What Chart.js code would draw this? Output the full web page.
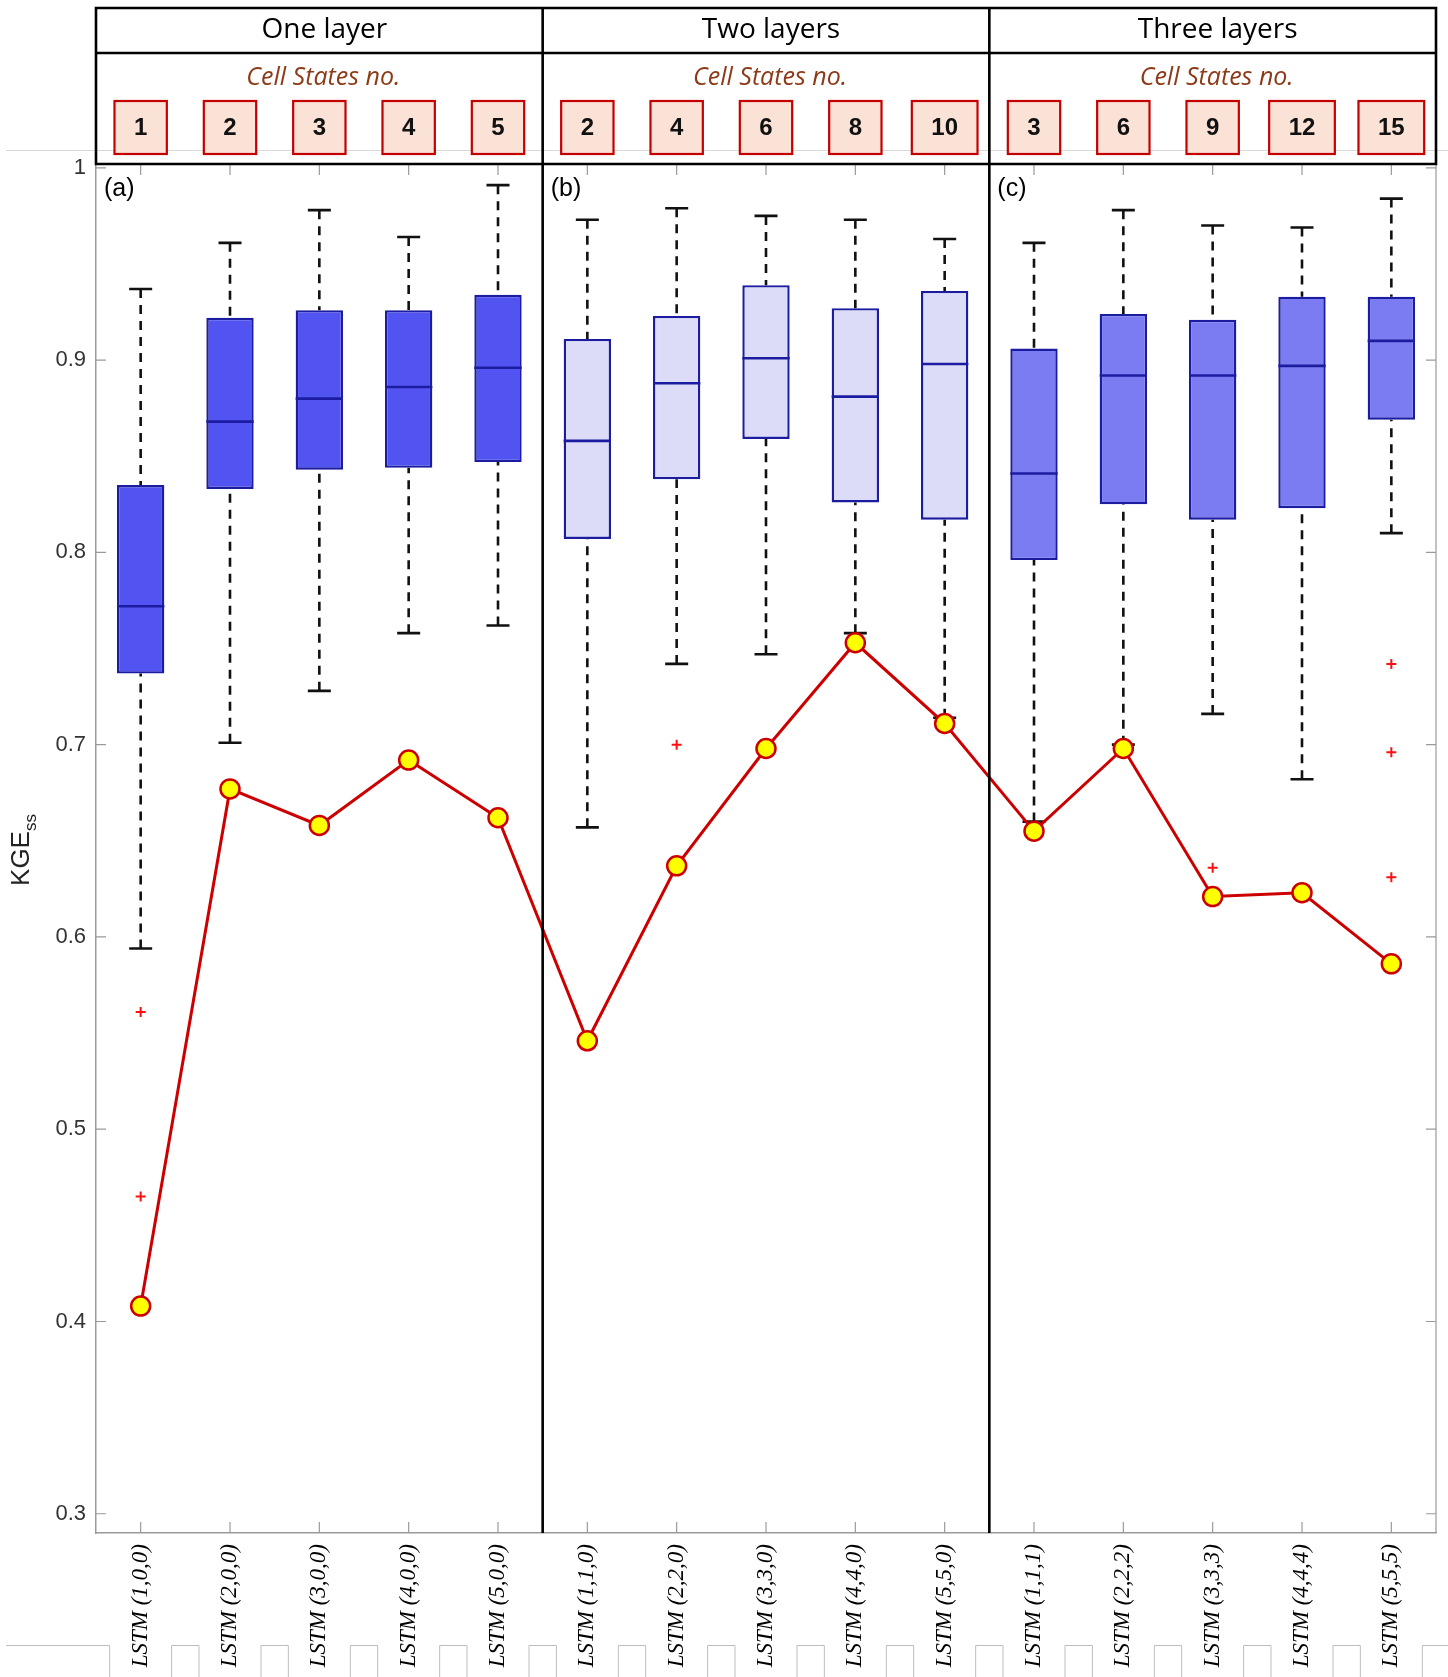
<!DOCTYPE html>
<html>
<head>
<meta charset="utf-8">
<script src="https://cdn.jsdelivr.net/npm/chart.js@4.4.1/dist/chart.umd.min.js"></script>
<style>
  html, body { margin: 0; padding: 0; background: #fff; }
  #wrap { width: 1448px; height: 1677px; }
</style>
</head>
<body>
<div id="wrap"><canvas id="chartbox" width="1448" height="1677"></canvas></div>
<script>
// models on the x axis
const labels = [
  'LSTM (1,0,0)', 'LSTM (2,0,0)', 'LSTM (3,0,0)', 'LSTM (4,0,0)', 'LSTM (5,0,0)',
  'LSTM (1,1,0)', 'LSTM (2,2,0)', 'LSTM (3,3,0)', 'LSTM (4,4,0)', 'LSTM (5,5,0)',
  'LSTM (1,1,1)', 'LSTM (2,2,2)', 'LSTM (3,3,3)', 'LSTM (4,4,4)', 'LSTM (5,5,5)'
];
const layerTitles = ['One layer', 'Two layers', 'Three layers'];
const panelTags = ['(a)', '(b)', '(c)'];
const cellStates = [1, 2, 3, 4, 5, 2, 4, 6, 8, 10, 3, 6, 9, 12, 15];

// box plot stats (KGEss)
const whiskerHigh = [0.937, 0.961, 0.978, 0.964, 0.991, 0.973, 0.979, 0.975, 0.973, 0.963, 0.961, 0.978, 0.970, 0.969, 0.984];
const q3 = [0.835, 0.922, 0.926, 0.926, 0.934, 0.911, 0.923, 0.939, 0.927, 0.936, 0.906, 0.924, 0.921, 0.933, 0.933];
const median = [0.772, 0.868, 0.880, 0.886, 0.896, 0.858, 0.888, 0.901, 0.881, 0.898, 0.841, 0.892, 0.892, 0.897, 0.910];
const q1 = [0.737, 0.833, 0.843, 0.844, 0.847, 0.807, 0.838, 0.859, 0.826, 0.817, 0.796, 0.825, 0.817, 0.823, 0.869];
const whiskerLow = [0.594, 0.701, 0.728, 0.758, 0.762, 0.657, 0.742, 0.747, 0.758, 0.714, 0.660, 0.700, 0.716, 0.682, 0.810];
const outliers = [[0.561, 0.465], [], [], [], [], [], [0.700], [], [], [], [], [], [0.636], [], [0.742, 0.696, 0.631]];

// red line with yellow markers
const kgeLine = [0.408, 0.677, 0.658, 0.692, 0.662, 0.546, 0.637, 0.698, 0.753, 0.711, 0.655, 0.698, 0.621, 0.623, 0.586];

const yTicks = [0.3, 0.4, 0.5, 0.6, 0.7, 0.8, 0.9, 1];
const panelFill = ['#5254f2', '#dcdcf8', '#7c7cf2'];

const boxColors = labels.map((l, i) => panelFill[Math.floor(i / 5)]);
const outlierPts = [];
outliers.forEach((arr, i) => arr.forEach(v => outlierPts.push({ x: labels[i], y: v })));

const boxPlot = {
  id: 'boxPlot',
  beforeDatasetsDraw(chart) {
    const { ctx, scales: { x, y } } = chart;
    ctx.save();
    ctx.strokeStyle = '#111';
    ctx.lineWidth = 2.6;
    labels.forEach((l, i) => {
      const px = x.getPixelForValue(i);
      ctx.setLineDash([9, 7]);
      ctx.beginPath();
      ctx.moveTo(px, y.getPixelForValue(whiskerHigh[i]));
      ctx.lineTo(px, y.getPixelForValue(q3[i]));
      ctx.moveTo(px, y.getPixelForValue(whiskerLow[i]));
      ctx.lineTo(px, y.getPixelForValue(q1[i]));
      ctx.stroke();
      ctx.setLineDash([]);
      ctx.beginPath();
      ctx.moveTo(px - 11.5, y.getPixelForValue(whiskerHigh[i]));
      ctx.lineTo(px + 11.5, y.getPixelForValue(whiskerHigh[i]));
      ctx.moveTo(px - 11.5, y.getPixelForValue(whiskerLow[i]));
      ctx.lineTo(px + 11.5, y.getPixelForValue(whiskerLow[i]));
      ctx.stroke();
    });
    ctx.restore();
  },
  afterDatasetDraw(chart, args) {
    if (args.index !== 0) return;
    const { ctx, scales: { y } } = chart;
    const bars = args.meta.data;
    ctx.save();
    ctx.strokeStyle = '#1c1ca0';
    ctx.lineWidth = 2.6;
    bars.forEach((b, i) => {
      const py = y.getPixelForValue(median[i]);
      ctx.beginPath();
      ctx.moveTo(b.x - b.width / 2, py);
      ctx.lineTo(b.x + b.width / 2, py);
      ctx.stroke();
    });
    ctx.restore();
  }
};

const frame = {
  id: 'frame',
  afterDraw(chart) {
    const { ctx, chartArea: ca, scales: { x, y } } = chart;
    const W = chart.width, H = chart.height;
    ctx.save();

    // inward ticks
    ctx.strokeStyle = '#9a9a9a';
    ctx.lineWidth = 1.2;
    ctx.beginPath();
    yTicks.forEach(v => {
      const py = y.getPixelForValue(v);
      ctx.moveTo(ca.left, py); ctx.lineTo(ca.left + 10, py);
      ctx.moveTo(ca.right, py); ctx.lineTo(ca.right - 10, py);
    });
    labels.forEach((l, i) => {
      const px = x.getPixelForValue(i);
      ctx.moveTo(px, ca.top); ctx.lineTo(px, ca.top + 11);
      ctx.moveTo(px, ca.bottom); ctx.lineTo(px, ca.bottom - 11);
    });
    ctx.moveTo(ca.right, ca.top); ctx.lineTo(ca.right, ca.bottom);
    ctx.stroke();

    // faint guide line behind header boxes
    ctx.strokeStyle = '#d8d8d8';
    ctx.lineWidth = 1;
    ctx.beginPath();
    ctx.moveTo(6, 150.5); ctx.lineTo(W, 150.5);
    ctx.stroke();

    // comb strip under the x labels
    ctx.strokeStyle = '#bdbdbd';
    ctx.beginPath();
    ctx.moveTo(6, 1645.5);
    labels.forEach((l, i) => {
      const px = x.getPixelForValue(i);
      ctx.lineTo(px - 31, 1645.5); ctx.lineTo(px - 31, H);
      ctx.moveTo(px + 31, H); ctx.lineTo(px + 31, 1645.5);
    });
    ctx.lineTo(W, 1645.5);
    ctx.stroke();

    // panels and header
    const edges = [ca.left];
    for (let g = 1; g < 3; g++) {
      edges.push((x.getPixelForValue(g * 5 - 1) + x.getPixelForValue(g * 5)) / 2);
    }
    edges.push(ca.right);
    const topY = 8, rowY = 53;

    ctx.fillStyle = '#fff';
    ctx.fillRect(ca.left, topY, ca.right - ca.left, ca.top - topY);
    ctx.strokeStyle = '#d8d8d8';
    ctx.beginPath();
    ctx.moveTo(ca.left, 150.5); ctx.lineTo(ca.right, 150.5);
    ctx.stroke();

    for (let i = 0; i < cellStates.length; i++) {
      const px = x.getPixelForValue(i);
      ctx.font = 'bold 24px "Liberation Sans", Arial, sans-serif';
      const tw = ctx.measureText(String(cellStates[i])).width;
      const bw = Math.max(52, tw + 39);
      ctx.fillStyle = '#fbe2d6';
      ctx.fillRect(px - bw / 2, 101, bw, 53);
      ctx.strokeStyle = '#c40000';
      ctx.lineWidth = 2.2;
      ctx.strokeRect(px - bw / 2, 101, bw, 53);
      ctx.fillStyle = '#111';
      ctx.textAlign = 'center';
      ctx.textBaseline = 'middle';
      ctx.fillText(String(cellStates[i]), px, 128);
    }

    ctx.strokeStyle = '#000';
    ctx.lineWidth = 2.6;
    ctx.beginPath();
    ctx.rect(ca.left, topY, ca.right - ca.left, ca.top - topY);
    ctx.moveTo(ca.left, rowY); ctx.lineTo(ca.right, rowY);
    for (let g = 1; g < 3; g++) {
      ctx.moveTo(edges[g], topY); ctx.lineTo(edges[g], ca.bottom);
    }
    ctx.stroke();

    for (let g = 0; g < 3; g++) {
      const cx = (edges[g] + edges[g + 1]) / 2;
      ctx.textAlign = 'center';
      ctx.textBaseline = 'middle';
      ctx.fillStyle = '#000';
      ctx.font = '28px "Open Sans", sans-serif';
      ctx.fillText(layerTitles[g], cx + 5, 30);
      ctx.fillStyle = '#8c3a18';
      ctx.font = 'italic 25px "Open Sans", sans-serif';
      ctx.fillText('Cell States no.', cx + 4, 78);
      ctx.fillStyle = '#000';
      ctx.textAlign = 'left';
      ctx.font = '25px "Liberation Sans", Arial, sans-serif';
      ctx.fillText(panelTags[g], edges[g] + 8, 189);
    }

    // y axis title KGE_ss
    ctx.translate(22, 850);
    ctx.rotate(-Math.PI / 2);
    ctx.fillStyle = '#222';
    ctx.textBaseline = 'middle';
    ctx.font = '26px "Liberation Sans", Arial, sans-serif';
    const w1 = ctx.measureText('KGE').width;
    ctx.font = '17px "Liberation Sans", Arial, sans-serif';
    const w2 = ctx.measureText('ss').width;
    ctx.textAlign = 'left';
    ctx.font = '26px "Liberation Sans", Arial, sans-serif';
    ctx.fillText('KGE', -(w1 + w2) / 2, 0);
    ctx.font = '17px "Liberation Sans", Arial, sans-serif';
    ctx.fillText('ss', -(w1 + w2) / 2 + w1, 9);
    ctx.restore();
  }
};

new Chart(document.getElementById('chartbox').getContext('2d'), {
  type: 'bar',
  data: {
    labels: labels,
    datasets: [
      {
        type: 'bar',
        label: 'Box',
        data: labels.map((l, i) => [q1[i], q3[i]]),
        backgroundColor: boxColors,
        borderColor: '#1c1ca0',
        borderWidth: 2.4,
        borderSkipped: false,
        barPercentage: 0.53,
        categoryPercentage: 1,
        order: 3
      },
      {
        type: 'line',
        label: 'Outliers',
        data: outlierPts,
        showLine: false,
        pointStyle: 'cross',
        pointRadius: 5,
        pointBorderWidth: 2,
        pointBorderColor: '#ff1010',
        order: 2
      },
      {
        type: 'line',
        label: 'KGE',
        data: kgeLine,
        borderColor: '#cc0000',
        borderWidth: 3,
        pointRadius: 9.5,
        pointBackgroundColor: '#ffff00',
        pointBorderColor: '#cc0000',
        pointBorderWidth: 2.5,
        tension: 0,
        order: 1
      }
    ]
  },
  options: {
    responsive: false,
    animation: false,
    devicePixelRatio: 1,
    layout: { padding: { top: 164, right: 8, left: 0, bottom: 0 } },
    plugins: { legend: { display: false }, tooltip: { enabled: false } },
    scales: {
      x: {
        offset: true,
        grid: { display: false, drawTicks: false },
        border: { color: '#9a9a9a', width: 1.5 },
        ticks: {
          maxRotation: 90,
          minRotation: 90,
          padding: 11,
          color: '#000',
          font: { family: '"Liberation Serif", serif', style: 'italic', size: 23 }
        },
        afterFit(scale) { scale.height = 144; }
      },
      y: {
        min: 0.29,
        max: 1.002,
        grid: { display: false, drawTicks: false },
        border: { color: '#9a9a9a', width: 1.5 },
        afterBuildTicks(scale) { scale.ticks = yTicks.map(v => ({ value: v })); },
        ticks: {
          padding: 10,
          color: '#333',
          font: { family: '"Liberation Sans", Arial, sans-serif', size: 22 },
          callback: v => (v === 1 ? '1' : v.toFixed(1))
        },
        afterFit(scale) { scale.width = 96; }
      }
    }
  },
  plugins: [boxPlot, frame]
});
</script>
</body>
</html>
